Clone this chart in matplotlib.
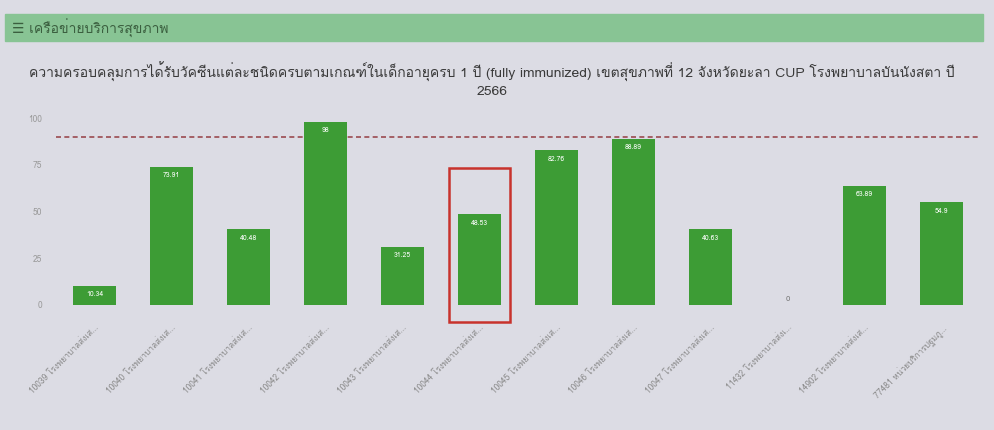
import matplotlib.pyplot as plt
from matplotlib import font_manager
from matplotlib.ft2font import FT2Font
from matplotlib.patches import Rectangle

# data
codes = ["10039", "10040", "10041", "10042", "10043", "10044",
         "10045", "10046", "10047", "11432", "14902", "77481"]
names = ["โรงพยาบาลส่งเส...", "โรงพยาบาลส่งเส...", "โรงพยาบาลส่งเส...",
         "โรงพยาบาลส่งเส...", "โรงพยาบาลส่งเส...", "โรงพยาบาลส่งเส...",
         "โรงพยาบาลส่งเส...", "โรงพยาบาลส่งเส...", "โรงพยาบาลส่งเส...",
         "โรงพยาบาลส่งเ...", "โรงพยาบาลส่งเส...", "หน่วยบริการปฐมภู..."]
coverage = [10.34, 73.91, 40.48, 98.0, 31.25, 48.53,
            82.76, 88.89, 40.63, 0, 63.89, 54.9]
target = 90
highlight = "10044"

title = ("ความครอบคลุมการได้รับวัคซีนแต่ละชนิดครบตามเกณฑ์ในเด็กอายุครบ 1 ปี (fully immunized) "
         "เขตสุขภาพที่ 12 จังหวัดยะลา CUP โรงพยาบาลบันนังสตา ปี\n2566")
header = "☰ เครือข่ายบริการสุขภาพ"


def thai_family():
    # find an installed font that has Thai glyphs
    for f in font_manager.fontManager.ttflist:
        try:
            if 0x0E01 in FT2Font(f.fname).get_charmap():
                return f.name
        except Exception:
            pass
    return None


fam = thai_family()
families = ([fam] if fam else []) + ["DejaVu Sans"]
plt.rcParams["font.family"] = families

W, H = 994, 430
fig = plt.figure(figsize=(W / 100, H / 100), dpi=100)
fig.patch.set_facecolor("#dcdce4")

# green panel header
fig.patches.append(Rectangle((5 / W, 1 - 41 / H), 978 / W, 27 / H,
                             transform=fig.transFigure, color="#88c494", zorder=0))
fig.text(12 / W, 1 - 28 / H, header, fontsize=10, color="#3b5f3f", va="center")
fig.text(492 / W, 1 - 80 / H, title, fontsize=10, color="#3a3a3a",
         ha="center", va="center", linespacing=1.35)

ax = fig.add_axes([56 / W, 125 / H, 924 / W, 187 / H])
ax.set_facecolor("none")
x = list(range(len(codes)))
bars = ax.bar(x, coverage, width=0.57, color="#3d9c35", zorder=2)
ax.bar_label(bars, labels=[f"{v:g}" if v > 0 else "" for v in coverage],
             padding=-9, fontsize=5, color="white")
for xi, v in zip(x, coverage):
    if v == 0:
        ax.text(xi, 1, "0", ha="center", va="bottom", fontsize=5.5, color="#777777")
ax.axhline(target, color="#9a4a50", linestyle=(0, (3, 2)), linewidth=1.2, zorder=1)

ax.set_xlim(-0.5, len(codes) - 0.5)
ax.set_ylim(0, 100)
ax.set_yticks([0, 25, 50, 75, 100])
ax.tick_params(axis="y", length=0, labelsize=6, labelcolor="#9a9a9a", pad=10)
ax.set_xticks(x)
ax.set_xticklabels([f"{c} {n}" for c, n in zip(codes, names)], rotation=45,
                   ha="right", rotation_mode="anchor", fontsize=6, color="#8a8a8a")
ax.tick_params(axis="x", length=0, pad=13)
for s in ax.spines.values():
    s.set_visible(False)

# red highlight box drawn around the highlighted bar
i = codes.index(highlight)
ax.add_patch(Rectangle((i - 0.39, -9), 0.78, 82, fill=False, edgecolor="#c8322c",
                       linewidth=1.8, clip_on=False, zorder=3))

fig.savefig("out.png", dpi=100, facecolor=fig.get_facecolor())
